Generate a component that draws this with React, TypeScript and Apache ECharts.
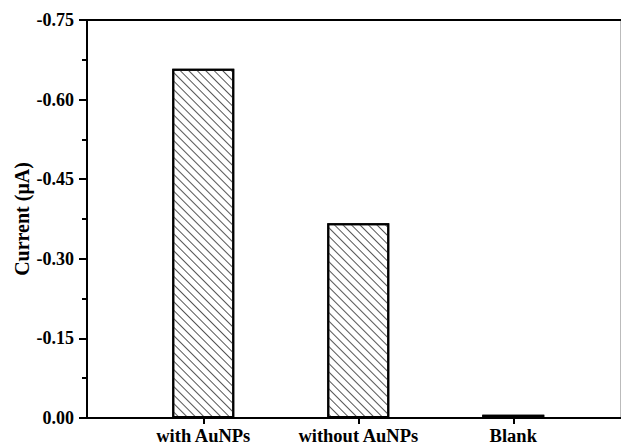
import React, { useEffect, useRef } from "react";
import * as echarts from "echarts";

const categories = ["with AuNPs", "without AuNPs", "Blank"];
const positions = [1, 2, 3];
const currents = [-0.658, -0.367, -0.006];
const yTicks = [-0.75, -0.6, -0.45, -0.3, -0.15, 0];

const FONT = "'Liberation Serif', 'Times New Roman', serif";

export default function App() {
  const ref = useRef<HTMLDivElement>(null);
  useEffect(() => {
    if (!ref.current) return;
    const chart = echarts.init(ref.current, null, { renderer: "svg" });
    const data = positions.map((p, i) => [p, currents[i]]);
    chart.setOption({
      animation: false,
      backgroundColor: "#fff",
      grid: { left: 87, right: 0, top: 20, bottom: 27, containLabel: false },
      xAxis: [
        {
          type: "value",
          min: 0.25,
          max: 3.695,
          position: "bottom",
          splitLine: { show: false },
          axisLine: { show: true, onZero: false, lineStyle: { color: "#000", width: 2 } },
          axisTick: { show: true, customValues: positions, length: 6, lineStyle: { color: "#000", width: 2 } },
          axisLabel: {
            show: true,
            customValues: positions,
            formatter: (v: number) => categories[positions.indexOf(Math.round(v))] ?? "",
            color: "#000",
            fontFamily: FONT,
            fontWeight: "bold",
            fontSize: 18.5,
            margin: 8,
          },
        },
        {
          type: "value",
          min: 0.25,
          max: 3.695,
          position: "top",
          splitLine: { show: false },
          axisLine: { show: true, onZero: false, lineStyle: { color: "#000", width: 2 } },
          axisTick: { show: false },
          axisLabel: { show: false },
        },
      ],
      yAxis: [
        {
          type: "value",
          min: yTicks[0],
          max: yTicks[yTicks.length - 1],
          interval: 0.15,
          inverse: true,
          name: "Current (μA)",
          nameLocation: "middle",
          nameGap: 55,
          nameMoveOverlap: false,
          nameTextStyle: { color: "#000", fontFamily: FONT, fontWeight: "bold", fontSize: 20 },
          splitLine: { show: false },
          axisLine: { show: true, onZero: false, lineStyle: { color: "#000", width: 2 } },
          axisTick: { show: true, inside: false, length: 8, lineStyle: { color: "#000", width: 2 } },
          minorTick: { show: true, splitNumber: 2, length: 5, lineStyle: { color: "#000", width: 2 } },
          axisLabel: {
            color: "#000",
            fontFamily: FONT,
            fontWeight: "bold",
            fontSize: 18,
            margin: 13,
            formatter: (v: number) => (Math.abs(v) < 1e-9 ? "0.00" : v.toFixed(2)),
          },
        },
        {
          type: "value",
          min: yTicks[0],
          max: yTicks[yTicks.length - 1],
          inverse: true,
          position: "right",
          splitLine: { show: false },
          axisLine: { show: true, onZero: false, lineStyle: { color: "#bbb", width: 2 } },
          axisTick: { show: false },
          axisLabel: { show: false },
        },
      ],
      series: [
        {
          type: "bar",
          xAxisIndex: 0,
          yAxisIndex: 0,
          data,
          barWidth: 62,
          itemStyle: {
            color: "#fff",
            borderColor: "#000",
            borderWidth: 2,
            decal: {
              symbol: "rect",
              symbolSize: 1,
              dashArrayX: [1, 0],
              dashArrayY: [1, 5],
              rotation: Math.PI / 4,
              color: "#555",
              backgroundColor: "#fff",
            },
          },
        },
      ],
    });
    return () => chart.dispose();
  }, []);
  return <div ref={ref} style={{ width: 621, height: 445, position: "absolute", left: 0, top: 0 }} />;
}
